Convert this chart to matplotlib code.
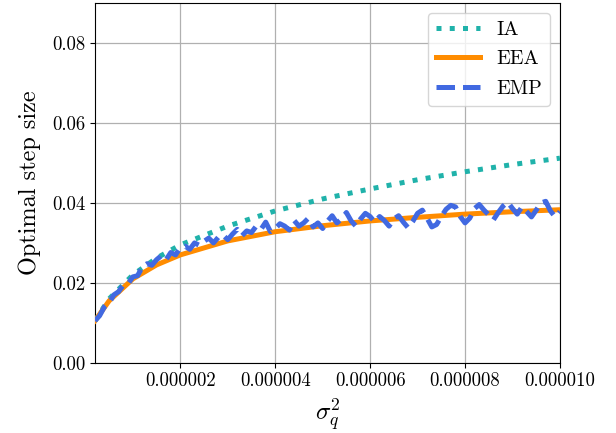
import matplotlib
matplotlib.use("Agg")
import matplotlib.pyplot as plt
from matplotlib.ticker import FuncFormatter

plt.rcParams['font.family'] = ['cmr10', 'DejaVu Serif']
plt.rcParams['mathtext.fontset'] = 'cm'
plt.rcParams['axes.formatter.use_mathtext'] = True

x_smooth = [0.2e-6, 0.5e-6, 1.0e-6, 1.5e-6, 2.0e-6, 3.0e-6, 4.0e-6, 5.0e-6,
            6.0e-6, 7.0e-6, 8.0e-6, 9.0e-6, 10.0e-6]
ia = [0.0105, 0.0160, 0.0220, 0.0262, 0.0295, 0.0342, 0.0380, 0.0410,
      0.0435, 0.0458, 0.0478, 0.0496, 0.0512]
eea = [0.0105, 0.0155, 0.0210, 0.0245, 0.0270, 0.0305, 0.0328, 0.0343,
       0.0355, 0.0364, 0.0372, 0.0378, 0.0383]

x_emp = [round(i * 0.1, 1) * 1e-6 for i in range(2, 101)]
emp = [0.0105, 0.0118, 0.0140, 0.0150, 0.0170, 0.0178, 0.0195, 0.0198, 0.0215, 0.0218,
       0.0240, 0.0248, 0.0244, 0.0258, 0.0268, 0.0258, 0.0276, 0.0270, 0.0288, 0.0292,
       0.0284, 0.0300, 0.0294, 0.0304, 0.0312, 0.0300, 0.0314, 0.0320, 0.0308, 0.0322,
       0.0334, 0.0318, 0.0330, 0.0326, 0.0342, 0.0334, 0.0352, 0.0328, 0.0336, 0.0348,
       0.0342, 0.0332, 0.0356, 0.0342, 0.0350, 0.0362, 0.0340, 0.0350, 0.0336, 0.0354,
       0.0368, 0.0350, 0.0360, 0.0376, 0.0355, 0.0342, 0.0360, 0.0374, 0.0366, 0.0352,
       0.0366, 0.0356, 0.0342, 0.0360, 0.0368, 0.0352, 0.0338, 0.0354, 0.0374, 0.0382,
       0.0362, 0.0340, 0.0346, 0.0366, 0.0384, 0.0394, 0.0390, 0.0366, 0.0350, 0.0362,
       0.0386, 0.0396, 0.0382, 0.0370, 0.0358, 0.0376, 0.0392, 0.0402, 0.0386, 0.0372,
       0.0390, 0.0378, 0.0365, 0.0382, 0.0400, 0.0404, 0.0380, 0.0365, 0.0378]

x_ticks = [2e-6, 4e-6, 6e-6, 8e-6, 10e-6]
y_ticks = [0.0, 0.02, 0.04, 0.06, 0.08]

fig = plt.figure(figsize=(6.16, 4.33), dpi=100)
ax = fig.add_axes([0.154, 0.162, 0.755, 0.831])

ax.plot(x_smooth, ia, linestyle=':', color='#20b2aa', lw=3.6, label='IA', zorder=3)
ax.plot(x_smooth, eea, linestyle='-', color='darkorange', lw=3.6, label='EEA', zorder=3)
ax.plot(x_emp, emp, linestyle='--', color='royalblue', lw=3.6, label='EMP', zorder=4)

ax.set_xlim(0.2e-6, 10e-6)
ax.set_ylim(0, 0.09)
ax.set_xticks(x_ticks)
ax.set_yticks(y_ticks)
ax.xaxis.set_major_formatter(FuncFormatter(lambda v, p: f"{v:.6f}"))
ax.yaxis.set_major_formatter(FuncFormatter(lambda v, p: f"{v:.2f}"))
ax.tick_params(labelsize=13.5)
ax.grid(True, color='#b0b0b0', lw=0.9)
ax.set_axisbelow(True)

ax.set_xlabel(r'$\sigma_q^2$', fontsize=18)
ax.set_ylabel('Optimal step size', fontsize=17.5, labelpad=8)

ax.legend(loc='upper right', fontsize=14.5, handlelength=2.2, labelspacing=0.55)

fig.savefig('out.png', dpi=100)
